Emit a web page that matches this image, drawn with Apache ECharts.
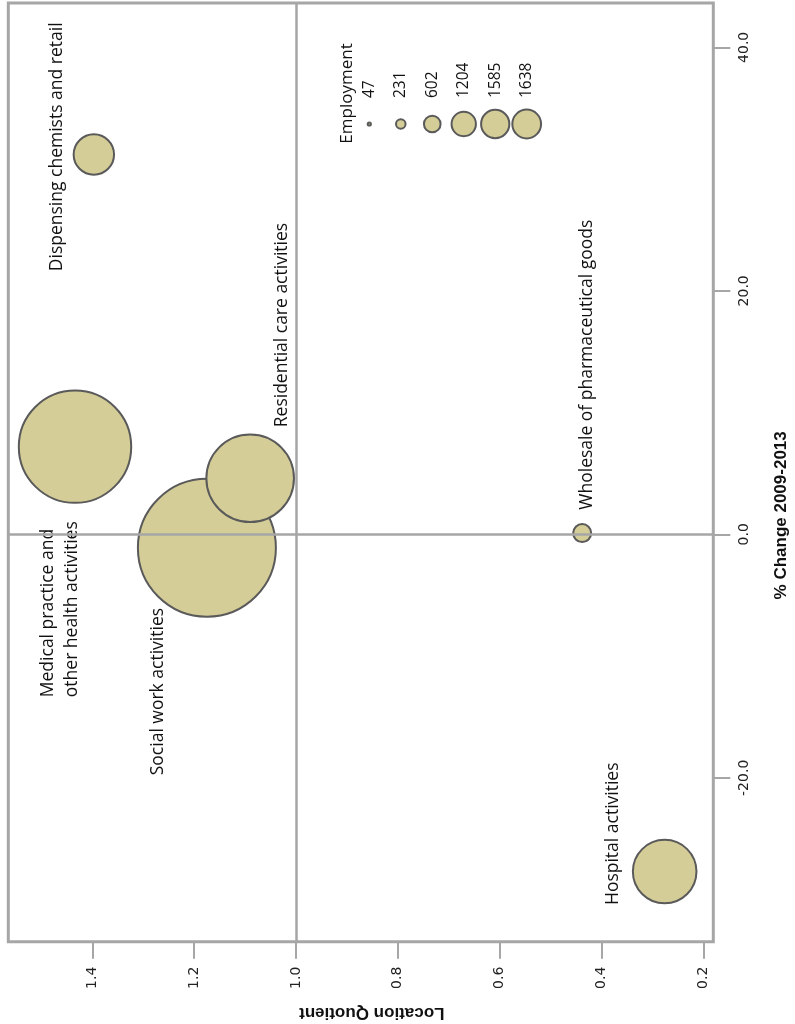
<!DOCTYPE html>
<html>
<head>
<meta charset="utf-8">
<script src="https://cdn.jsdelivr.net/npm/echarts@6/dist/echarts.min.js"></script>
<style>
html,body{margin:0;padding:0;background:#ffffff;}
#chart{width:795px;height:1024px;}
</style>
</head>
<body>
<div id="chart"></div>
<script>
// ---- data ----
const industries = [
  'Dispensing chemists and retail',
  'Medical practice and\nother health activities',
  'Social work activities',
  'Residential care activities',
  'Wholesale of pharmaceutical goods',
  'Hospital activities'
];
const locationQuotient = [1.397, 1.434, 1.175, 1.090, 0.438, 0.276];
const pctChange = [31.2, 7.2, -1.1, 4.6, 0.1, -27.7];
const employment = [231, 1585, 1638, 1204, 47, 602];

const lqTicks = [1.4, 1.2, 1.0, 0.8, 0.6, 0.4, 0.2];
const changeTicks = [40, 20, 0, -20];
const legendEmployment = [47, 231, 602, 1204, 1585, 1638];

// ---- encodings ----
const sortedEmp = employment.slice().sort((a, b) => a - b);
function bubbleSize(emp) {
  const k = sortedEmp.indexOf(emp);
  return 2 * (10 + 11 * k + 0.2 * k * k) - 2;
}
function legendSize(emp) {
  return Math.max(2, 0.76 * Math.sqrt(emp) - 2);
}

const labelPlacement = {
  'Dispensing chemists and retail': { position: ['-38%', '32%'], align: 'center' },
  'Medical practice and\nother health activities': { position: ['37%', '269%'], align: 'left' },
  'Social work activities': { position: ['15%', '93%'], align: 'right' },
  'Residential care activities': { position: ['86%', '-7%'], align: 'left' },
  'Wholesale of pharmaceutical goods': { position: ['72%', '-67%'], align: 'left' },
  'Hospital activities': { position: ['-28%', '101%'], align: 'left' }
};

const bubbleData = industries.map((name, i) => ({
  name: name,
  value: [locationQuotient[i], pctChange[i], employment[i]],
  label: labelPlacement[name]
}));

const legendData = legendEmployment.map((v, i) => [i, 0, v]);

const gridLine = '#a6a6a6';
const tickFont = { fontFamily: 'DejaVu Sans', fontSize: 14, color: '#222222' };
const titleFont = { fontFamily: 'Liberation Sans', fontWeight: 'bold', fontSize: 17, color: '#111111' };

const chart = echarts.init(document.getElementById('chart'), null, { renderer: 'canvas' });

chart.setOption({
  backgroundColor: '#ffffff',
  animation: false,
  grid: [
    {
      left: 8.3, right: 81.7, top: 3, bottom: 82.3,
      show: true, borderColor: gridLine, borderWidth: 3, backgroundColor: 'transparent',
      outerBoundsMode: 'none', containLabel: false
    },
    {
      left: 369.3, width: 157.4, top: 114, height: 20,
      show: false, outerBoundsMode: 'none', containLabel: false
    }
  ],
  xAxis: [
    {
      gridIndex: 0, type: 'value', inverse: true, position: 'bottom',
      min: 0.1805, max: 1.565,
      name: 'Location Quotient', nameLocation: 'middle', nameRotate: 180, nameGap: 62,
      nameTextStyle: Object.assign({ padding: [0, 22, 0, 0] }, titleFont),
      axisLine: { show: false, onZero: false },
      axisTick: { show: true, length: 17, customValues: lqTicks, lineStyle: { color: gridLine, width: 2 } },
      axisLabel: Object.assign({ customValues: lqTicks, rotate: 90, margin: 25,
        formatter: v => Number(v).toFixed(1) }, tickFont),
      splitLine: { show: false }
    },
    {
      gridIndex: 1, type: 'category', position: 'top', boundaryGap: false,
      data: legendEmployment.map(String),
      axisLine: { show: false }, axisTick: { show: false },
      axisLabel: { interval: 0, rotate: 90, margin: 16, fontFamily: 'Open Sans', fontSize: 15.5, color: '#111111' },
      splitLine: { show: false }
    }
  ],
  yAxis: [
    {
      gridIndex: 0, type: 'value', position: 'right',
      min: -33.46, max: 43.64,
      name: '% Change 2009-2013', nameLocation: 'middle', nameRotate: 90, nameGap: 60,
      nameTextStyle: Object.assign({ padding: [0, 86, 0, 0] }, titleFont),
      axisLine: { show: false, onZero: false },
      axisTick: { show: true, length: 17, customValues: changeTicks, lineStyle: { color: gridLine, width: 2 } },
      axisLabel: Object.assign({ customValues: changeTicks, rotate: 90, margin: 24,
        formatter: v => Number(v).toFixed(1) }, tickFont),
      splitLine: { show: false }
    },
    {
      gridIndex: 1, type: 'value', min: -1, max: 1, show: false
    }
  ],
  graphic: [
    {
      type: 'text', x: 347.5, y: 93.5, rotation: Math.PI / 2,
      style: { text: 'Employment', font: '17px "Open Sans"', fill: '#111111', align: 'center', verticalAlign: 'middle' }
    }
  ],
  series: [
    {
      type: 'scatter', xAxisIndex: 0, yAxisIndex: 0,
      data: bubbleData,
      symbol: 'circle',
      symbolSize: val => bubbleSize(val[2]),
      itemStyle: { color: '#d4cd97', borderColor: '#5a5a5a', borderWidth: 2, opacity: 1 },
      label: {
        show: true, formatter: '{b}', rotate: 90, verticalAlign: 'middle',
        fontFamily: 'Open Sans', fontSize: 17.5, lineHeight: 24, color: '#111111'
      },
      emphasis: { disabled: true },
      z: 2,
      markLine: {
        silent: true, symbol: 'none', z: 3,
        label: { show: false },
        lineStyle: { color: gridLine, width: 2.5, type: 'solid' },
        data: [{ xAxis: 1 }, { yAxis: 0 }]
      }
    },
    {
      type: 'scatter', xAxisIndex: 1, yAxisIndex: 1,
      data: legendData,
      symbol: 'circle',
      symbolSize: val => legendSize(val[2]),
      itemStyle: { color: '#d4cd97', borderColor: '#5a5a5a', borderWidth: 2, opacity: 1 },
      emphasis: { disabled: true },
      silent: true
    }
  ]
});
</script>
</body>
</html>
